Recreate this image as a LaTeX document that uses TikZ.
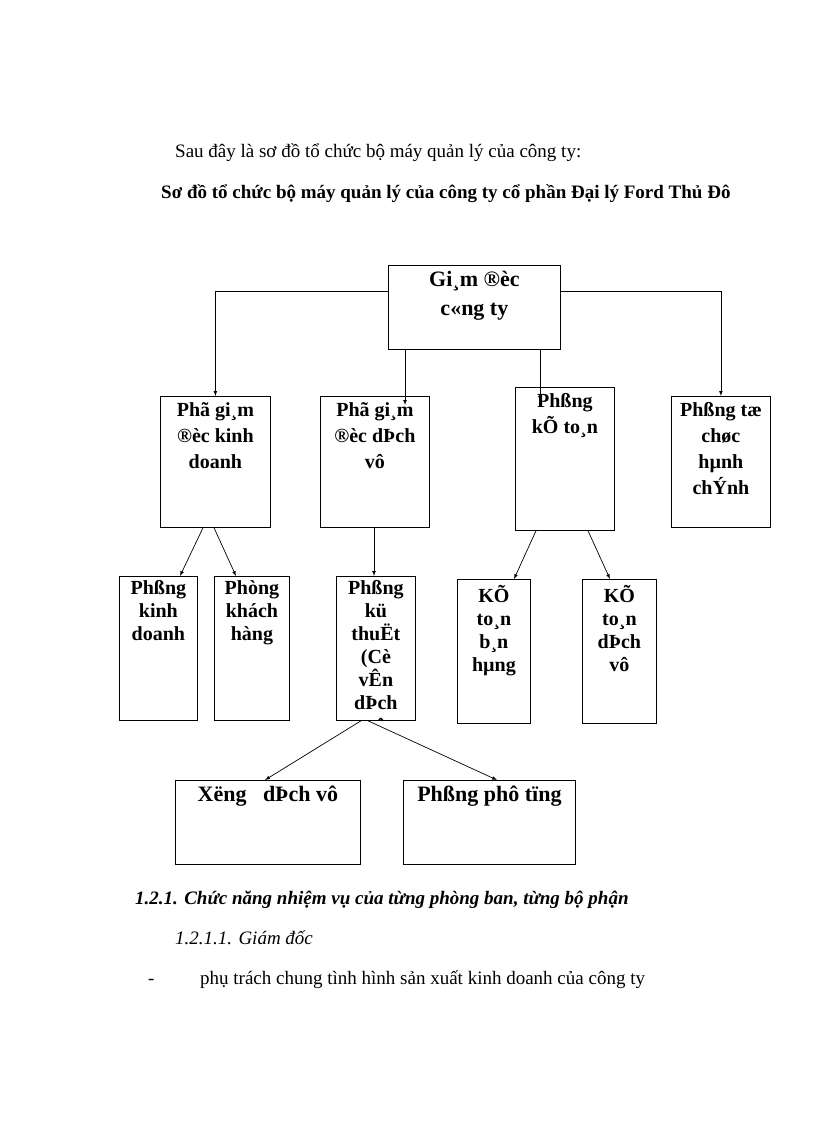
\documentclass[tikz,border=0pt]{standalone}
\usepackage{fontspec}
\setmainfont{Liberation Serif}
\begin{document}
\begin{tikzpicture}[x=1pt,y=-1pt,
  bx/.style={draw,line width=0.8pt,anchor=north west,inner sep=0pt},
  tx/.style={anchor=north,align=center,font=\fontsize{20}{26}\selectfont\bfseries,inner sep=0pt},
  tt/.style={tx,font=\fontsize{20}{23}\selectfont\bfseries},
  ar/.style={-latex,line width=0.7pt},
  body/.style={anchor=base west,font=\fontsize{19}{22}\selectfont,inner sep=0pt}]
\useasboundingbox (0,0) rectangle (816,1123);
\newcommand\bx[5]{\node[bx,minimum width=#4-#2,minimum height=#5-#3] (#1) at (#2,#3) {};}
\bx{top}{388}{265}{560}{349}
\bx{a}{160}{396}{270}{527}
\bx{b}{320}{396}{429}{527}
\bx{c}{515}{387}{614}{530}
\bx{d}{671}{396}{770}{527}
\bx{a1}{119}{576}{197}{720}
\bx{a2}{214}{576}{289}{720}
\bx{b1}{336}{576}{415}{720}
\bx{c1}{457}{579}{530}{723}
\bx{c2}{582}{579}{656}{723}
\bx{e1}{175}{780}{360}{864}
\bx{e2}{403}{780}{575}{864}
\node[tx,font=\fontsize{22}{29}\selectfont\bfseries] (ttop) at (top.north) [yshift=-6] {Gi¸m ®èc\\c«ng ty};
\node[tx] (ta) at (a.north) [yshift=-6] {Phã gi¸m\\®èc kinh\\doanh};
\node[tx] (tb) at (b.north) [yshift=-6] {Phã gi¸m\\®èc dÞch\\vô};
\node[tx] (tc) at (c.north) [yshift=-6] {Phßng\\kÕ to¸n};
\node[tx] (td) at (d.north) [yshift=-6] {Phßng tæ\\chøc\\hµnh\\chÝnh};
\node[tt] (ta1) at (a1.north) [yshift=-4] {Phßng\\kinh\\doanh};
\node[tt] (ta2) at (a2.north) [yshift=-4] {Phòng\\khách\\hàng};
\begin{scope}
\clip (b1.north west) rectangle (b1.south east);
\node[tt] (tb1) at (b1.north) [yshift=-4] {Phßng\\kü\\thuËt\\(Cè\\vÊn\\dÞch\\vô};
\end{scope}
\node[tt] (tc1) at (c1.north) [yshift=-6] {KÕ\\to¸n\\b¸n\\hµng};
\node[tt] (tc2) at (c2.north) [yshift=-6] {KÕ\\to¸n\\dÞch\\vô};
\node[tx,font=\fontsize{22}{26}\selectfont\bfseries] (te1) at (e1.north) [yshift=-6] {Xëng\ \ \ dÞch vô};
\node[tx,font=\fontsize{22}{26}\selectfont\bfseries] (te2) at (e2.north) [yshift=-6] {Phßng phô tïng};
\draw[ar] (top.west|-0,291) -| (a.north);
\draw[ar] (top.east|-0,291) -| (d.north);
\draw[ar] (top.south-|405,0) -- (405,405);
\draw[ar] (top.south-|540,0) -- (540,401);
\draw[ar] (a.south-|203,0) -- (a1.north-|180,0);
\draw[ar] (a.south-|214,0) -- (a2.north-|236,0);
\draw[ar] (b.south-|374,0) -- (b1.north-|374,0);
\draw[ar] (c.south-|536,0) -- (c1.north-|514,0);
\draw[ar] (c.south-|588,0) -- (c2.north-|610,0);
\draw[ar] (b1.south-|361,0) -- (e1.north-|265,0);
\draw[ar] (b1.south-|368,0) -- (e2.north-|497,0);
\node[body] (p1) at (175,158) {Sau đây là sơ đồ tổ chức bộ máy quản lý của công ty:};
\node[body,font=\fontsize{19}{22}\selectfont\bfseries] (p2) at (161,199) {Sơ đồ tổ chức bộ máy quản lý của công ty cổ phần Đại lý Ford Thủ Đô};
\node[body,font=\fontsize{19}{22}\selectfont\bfseries\itshape] (p3) at (135,904) {1.2.1. Chức năng nhiệm vụ của từng phòng ban, từng bộ phận};
\node[body,font=\fontsize{19}{22}\selectfont\itshape] (p4) at (175,944) {1.2.1.1. Giám đốc};
\node[body] (p5) at (148,984) {-};
\node[body] (p6) at (200,984) {phụ trách chung tình hình sản xuất kinh doanh của công ty};
\end{tikzpicture}
\end{document}
